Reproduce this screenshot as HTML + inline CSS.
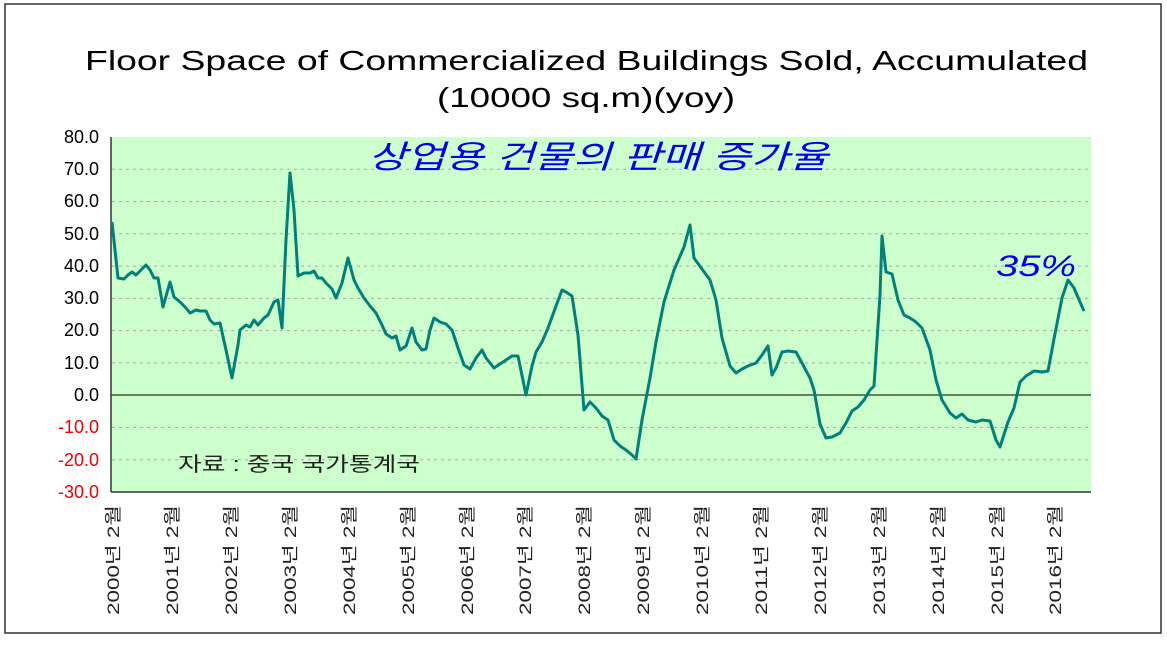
<!DOCTYPE html>
<html><head><meta charset="utf-8"><style>
body{margin:0;background:#fff;}
svg text{font-family:"Liberation Sans","Noto Sans CJK KR",sans-serif;}
</style></head><body>
<svg width="1167" height="640" xmlns="http://www.w3.org/2000/svg">
<rect x="5" y="4" width="1156" height="629" fill="#fff" stroke="#333" stroke-width="1.5"/>
<text x="85" y="70" font-size="28" fill="#000" textLength="1003" lengthAdjust="spacingAndGlyphs">Floor Space of Commercialized Buildings Sold, Accumulated</text>
<text x="437" y="107" font-size="28" fill="#000" textLength="298" lengthAdjust="spacingAndGlyphs">(10000 sq.m)(yoy)</text>
<rect x="111" y="137" width="980" height="355" fill="#ccffcc"/>
<g stroke="#aaa" stroke-dasharray="3,4" stroke-width="1">
<line x1="112" x2="1091" y1="169.3" y2="169.3"/><line x1="112" x2="1091" y1="201.5" y2="201.5"/>
<line x1="112" x2="1091" y1="233.8" y2="233.8"/><line x1="112" x2="1091" y1="266.1" y2="266.1"/>
<line x1="112" x2="1091" y1="298.4" y2="298.4"/><line x1="112" x2="1091" y1="330.6" y2="330.6"/>
<line x1="112" x2="1091" y1="362.9" y2="362.9"/><line x1="112" x2="1091" y1="427.5" y2="427.5"/>
<line x1="112" x2="1091" y1="459.7" y2="459.7"/>
</g>
<line x1="111" x2="1091" y1="395" y2="395" stroke="#000" stroke-width="1"/>
<line x1="111" x2="111" y1="137" y2="492" stroke="#333" stroke-width="1.5"/>
<line x1="111" x2="1091" y1="492" y2="492" stroke="#333" stroke-width="1.5"/>
<g font-size="18" text-anchor="end">
<text x="99" y="143">80.0</text><text x="99" y="175">70.0</text><text x="99" y="207">60.0</text>
<text x="99" y="240">50.0</text><text x="99" y="272">40.0</text><text x="99" y="304">30.0</text>
<text x="99" y="336">20.0</text><text x="99" y="369">10.0</text><text x="99" y="401">0.0</text>
<text x="99" y="433" fill="#e00">-10.0</text><text x="99" y="466" fill="#e00">-20.0</text><text x="99" y="498" fill="#e00">-30.0</text>
</g>
<g font-size="17" fill="#222">
<text transform="translate(119,615) rotate(-90)" textLength="110" lengthAdjust="spacingAndGlyphs">2000년 2월</text>
<text transform="translate(178,615) rotate(-90)" textLength="110" lengthAdjust="spacingAndGlyphs">2001년 2월</text>
<text transform="translate(237,615) rotate(-90)" textLength="110" lengthAdjust="spacingAndGlyphs">2002년 2월</text>
<text transform="translate(296,615) rotate(-90)" textLength="110" lengthAdjust="spacingAndGlyphs">2003년 2월</text>
<text transform="translate(355,615) rotate(-90)" textLength="110" lengthAdjust="spacingAndGlyphs">2004년 2월</text>
<text transform="translate(414,615) rotate(-90)" textLength="110" lengthAdjust="spacingAndGlyphs">2005년 2월</text>
<text transform="translate(473,615) rotate(-90)" textLength="110" lengthAdjust="spacingAndGlyphs">2006년 2월</text>
<text transform="translate(531,615) rotate(-90)" textLength="110" lengthAdjust="spacingAndGlyphs">2007년 2월</text>
<text transform="translate(590,615) rotate(-90)" textLength="110" lengthAdjust="spacingAndGlyphs">2008년 2월</text>
<text transform="translate(649,615) rotate(-90)" textLength="110" lengthAdjust="spacingAndGlyphs">2009년 2월</text>
<text transform="translate(708,615) rotate(-90)" textLength="110" lengthAdjust="spacingAndGlyphs">2010년 2월</text>
<text transform="translate(767,615) rotate(-90)" textLength="110" lengthAdjust="spacingAndGlyphs">2011년 2월</text>
<text transform="translate(826,615) rotate(-90)" textLength="110" lengthAdjust="spacingAndGlyphs">2012년 2월</text>
<text transform="translate(885,615) rotate(-90)" textLength="110" lengthAdjust="spacingAndGlyphs">2013년 2월</text>
<text transform="translate(944,615) rotate(-90)" textLength="110" lengthAdjust="spacingAndGlyphs">2014년 2월</text>
<text transform="translate(1003,615) rotate(-90)" textLength="110" lengthAdjust="spacingAndGlyphs">2015년 2월</text>
<text transform="translate(1061,615) rotate(-90)" textLength="110" lengthAdjust="spacingAndGlyphs">2016년 2월</text>
</g>
<polyline fill="none" stroke="#00807a" stroke-width="3" stroke-linejoin="round" points="112,222 118,278 124,279 128,275 132,272 136,275 142,269 146,265 150,270 154,278 158,278 163,307 170,282 174,297 180,302 186,308 190,313 196,310 200,311 206,311 210,320 214,324 220,323 226,350 232,378 238,345 240,330 246,325 250,327 254,320 258,325 264,318 268,315 274,302 278,300 282,328 286,240 290,173 294,210 298,276 304,273 310,273 314,271 318,278 322,278 326,283 332,289 336,298 342,283 348,258 354,280 358,288 364,298 370,306 376,313 382,325 386,334 392,338 396,336 400,350 406,346 412,328 416,342 422,350 426,349 430,330 434,318 440,322 446,324 452,330 458,348 464,365 470,369 476,358 482,350 486,358 494,368 500,364 506,360 512,356 518,356 526,395 532,366 536,352 542,342 548,328 556,306 562,290 566,292 572,296 578,335 584,410 590,402 596,408 602,416 608,420 614,440 620,446 626,450 632,455 636,459 642,420 650,378 656,342 664,302 674,270 684,247 690,225 694,258 702,269 710,280 716,300 722,338 730,366 736,373 742,369 748,366 756,363 762,355 768,346 772,375 776,368 782,352 788,351 796,352 802,363 810,378 814,390 820,424 826,438 832,437 840,433 846,423 852,411 858,407 864,400 870,390 874,386 880,295 882,236 886,272 892,274 898,300 904,315 910,318 916,322 922,328 930,350 936,380 942,400 950,413 956,418 962,414 968,420 976,422 982,420 990,421 996,440 1000,447 1008,422 1014,408 1020,382 1026,376 1034,371 1042,372 1048,371 1054,339 1062,298 1068,280 1074,288 1080,302 1084,311"/>
<text x="368" y="168" font-size="32" font-style="italic" fill="#0000ee" textLength="460" lengthAdjust="spacingAndGlyphs">상업용 건물의 판매 증가율</text>
<text x="996" y="276" font-size="30" font-style="italic" fill="#0000ee" textLength="80" lengthAdjust="spacingAndGlyphs">35%</text>
<text x="178" y="471" font-size="20" fill="#222" textLength="242" lengthAdjust="spacingAndGlyphs">자료 : 중국 국가통계국</text>
</svg>
</body></html>
